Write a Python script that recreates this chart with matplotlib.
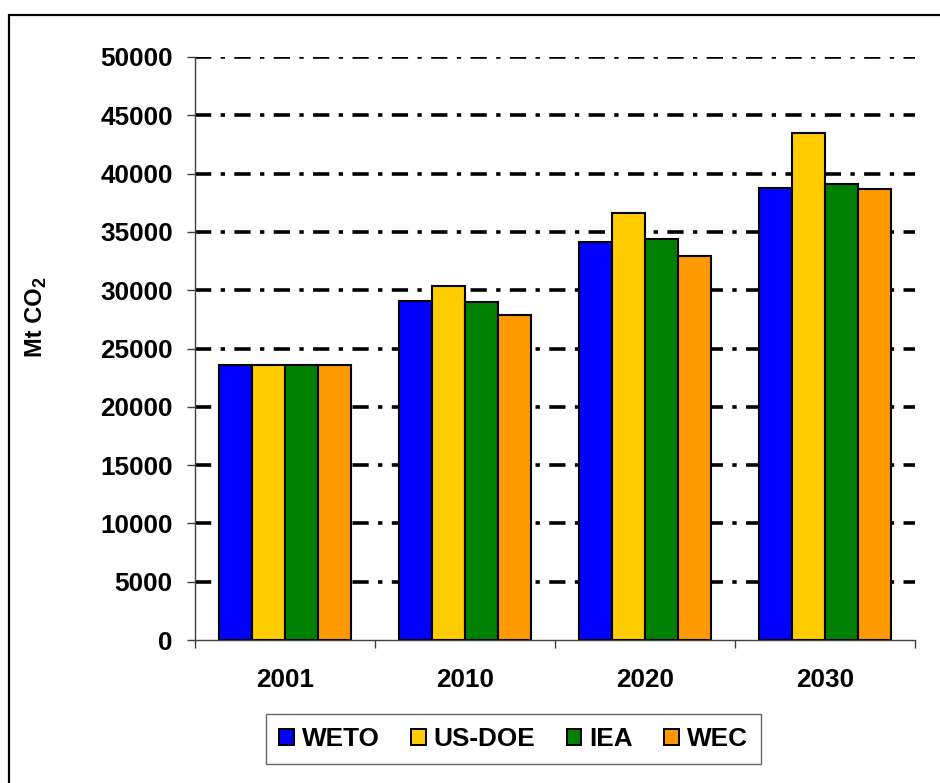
import numpy as np
import matplotlib
matplotlib.use('Agg')
import matplotlib.pyplot as plt
from matplotlib.patches import Rectangle, Patch

plt.rcParams['font.family'] = ['Liberation Sans', 'DejaVu Sans']
plt.rcParams['font.weight'] = 'bold'

# data (Mt CO2)
years = ['2001', '2010', '2020', '2030']
weto = [23600, 29100, 34150, 38750]
us_doe = [23600, 30350, 36650, 43500]
iea = [23600, 28950, 34350, 39100]
wec = [23600, 27850, 32950, 38700]

series = [('WETO', weto, '#0000FF'),
          ('US-DOE', us_doe, '#FFCC00'),
          ('IEA', iea, '#008000'),
          ('WEC', wec, '#FF9900')]

fig = plt.figure(figsize=(9.4, 7.83), dpi=100)
ax = fig.add_axes([195 / 940, 1 - 640 / 783, 720 / 940, 583 / 783])

x = np.arange(len(years))
w = 0.182
for i, (name, vals, col) in enumerate(series):
    ax.bar(x + (i - 1.5) * w, vals, w, color=col, edgecolor='black',
           linewidth=1.5, label=name, zorder=3)

ax.set_xlim(-0.5, 3.5)
ax.set_ylim(0, 50000)
ax.set_yticks(np.arange(0, 50001, 5000))

# gridlines behind bars
for yv in np.arange(5000, 50001, 5000):
    ax.axhline(yv, color='black', linewidth=2.6, zorder=1,
               linestyle=(0, (4.5, 2.6, 1.2, 2.6)))

# category boundaries as ticks, year names as minor labels
ax.set_xticks(np.arange(-0.5, 4, 1))
ax.set_xticklabels([])
ax.set_xticks(x, minor=True)
ax.set_xticklabels(years, minor=True)
ax.tick_params(axis='x', which='major', direction='out', length=6,
               width=1, color='#404040')
ax.tick_params(axis='x', which='minor', length=0, pad=20, labelsize=18.8)
ax.tick_params(axis='y', direction='out', length=6, width=1,
               color='#404040', pad=10, labelsize=18.8)

for s in ['top', 'right']:
    ax.spines[s].set_visible(False)
for s in ['left', 'bottom']:
    ax.spines[s].set_color('#404040')
    ax.spines[s].set_linewidth(1)

# y label "Mt CO2" with a lowered, smaller 2
lab = fig.text(36 / 940, 1 - 322 / 783, 'Mt CO', rotation=90, fontsize=17,
               fontweight='bold', ha='center', va='center')
fig.canvas.draw()
bb = lab.get_window_extent().transformed(fig.transFigure.inverted())
fig.text(bb.x1 + 2 / 940, bb.y1, '2', rotation=90, fontsize=13,
         fontweight='bold', ha='right', va='bottom')

handles = [Patch(facecolor=c, edgecolor='black', linewidth=1.4, label=n)
           for n, _, c in series]
leg = fig.legend(handles=handles, loc='center', ncol=4,
                 bbox_to_anchor=(513.5 / 940, 1 - 739 / 783),
                 prop={'size': 18.8, 'weight': 'bold'}, frameon=True,
                 fancybox=False, edgecolor='#404040', handlelength=0.56,
                 handleheight=0.56, handletextpad=0.3, columnspacing=1.2,
                 borderpad=0.5, borderaxespad=0)
leg.get_frame().set_linewidth(1)

# outer frame around the chart
fig.add_artist(Rectangle((9 / 940, -0.1), 2, 1.1 - 15 / 783,
                         transform=fig.transFigure, fill=False,
                         edgecolor='black', linewidth=1.6))

fig.savefig('out.png', dpi=100)
